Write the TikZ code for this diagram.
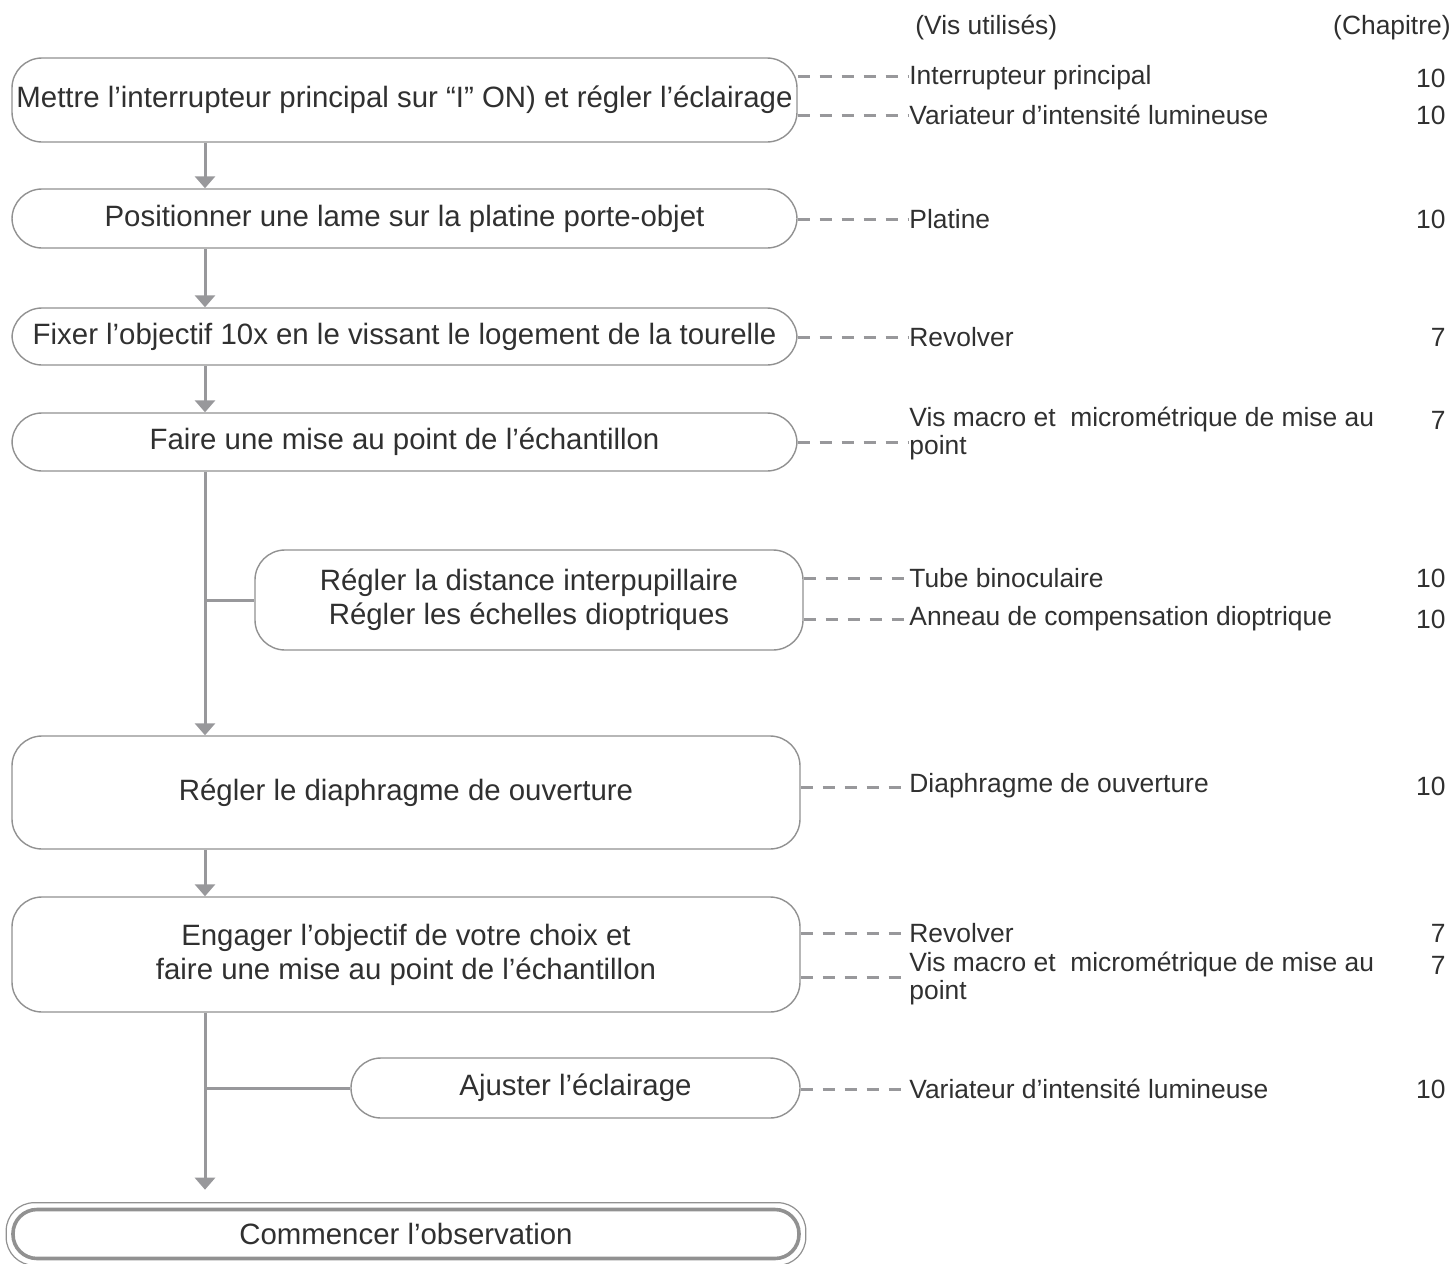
\documentclass[tikz,border=0pt]{standalone}
\usepackage{fontspec}
\setmainfont{Liberation Sans}
\usetikzlibrary{arrows.meta, positioning, calc}
\definecolor{cLine}{RGB}{152,152,155}
\definecolor{cBorder}{RGB}{145,145,145}
\definecolor{cText}{RGB}{48,48,48}
\tikzset{
	stepbox/.style={rectangle, rounded corners=15pt, draw=cBorder, line width=0.7pt, fill=white, text=cText, align=center, inner sep=0pt, font=\fontsize{14.7}{17}\selectfont},
	endbox/.style={stepbox, rounded corners=12pt, line width=1.8pt},
	flowline/.style={cLine, line width=1.5pt},
	flowarrow/.style={flowline, -{Triangle[length=6pt, width=10pt]}},
	link/.style={cLine, line width=1.5pt, dash pattern=on 6pt off 5pt},
	part/.style={anchor=west, inner sep=0pt, text=cText, align=left, font=\fontsize{13.2}{14}\selectfont},
	chap/.style={anchor=east, inner sep=0pt, text=cText, font=\fontsize{13.2}{14}\selectfont},
}
\begin{document}
\begin{tikzpicture}[x=0.5pt, y=-0.5pt]
	\useasboundingbox (0,0) rectangle (1452,1264);
	\coordinate (trunk) at (205,0);
	% main steps
	\node[stepbox, minimum width=392.5pt, minimum height=42pt] (sw) at (404.5,100) {Mettre l’interrupteur principal sur “I” ON) et régler l’éclairage};
	\node[stepbox, minimum width=392.5pt, minimum height=29.5pt] (lame) at (404.5,218.5) {Positionner une lame sur la platine porte-objet};
	\node[stepbox, minimum width=392.5pt, minimum height=28.5pt] (obj) at (404.5,336.5) {Fixer l’objectif 10x en le vissant le logement de la tourelle};
	\node[stepbox, minimum width=392.5pt, minimum height=29pt] (focus) at (404.5,442) {Faire une mise au point de l’échantillon};
	\node[stepbox, minimum width=274pt, minimum height=50pt] (pupil) at (529,600) {Régler la distance interpupillaire\\Régler les échelles dioptriques};
	\node[stepbox, minimum width=394pt, minimum height=56.5pt] (diaph) at (406,792.5) {Régler le diaphragme de ouverture};
	\node[stepbox, minimum width=394pt, minimum height=57.5pt] (engage) at (406,954.5) {Engager l’objectif de votre choix et\\faire une mise au point de l’échantillon};
	\node[stepbox, minimum width=224.5pt, minimum height=30pt] (eclair) at (575.5,1088) {Ajuster l’éclairage};
	\node[endbox, minimum width=393pt, minimum height=24.5pt] (obs) at (406,1234) {Commencer l’observation};
	\draw[cBorder, line width=0.6pt, rounded corners=14pt] ([shift={(-5,5)}]obs.south west) rectangle ([shift={(5,-5)}]obs.north east);
	% trunk
	\draw[flowarrow] (sw.south -| trunk) -- (lame.north -| trunk);
	\draw[flowarrow] (lame.south -| trunk) -- (obj.north -| trunk);
	\draw[flowarrow] (obj.south -| trunk) -- (focus.north -| trunk);
	\draw[flowarrow] (focus.south -| trunk) -- (diaph.north -| trunk);
	\draw[flowline] (pupil.west) -- (pupil.west -| trunk);
	\draw[flowarrow] (diaph.south -| trunk) -- (engage.north -| trunk);
	\draw[flowarrow, shorten >=9pt] (engage.south -| trunk) -- (obs.north -| trunk);
	\draw[flowline] (eclair.west) -- (eclair.west -| trunk);
	% parts and chapters
	\node[part] (hPart) at (915,28) {(Vis utilisés)};
	\node[chap] (hChap) at (1451,28) {(Chapitre)};
	\foreach \bx/\nm/\dy/\ty/\cy/\txt/\ch in {
		sw/p1/76/78/78/{Interrupteur principal}/10,
		sw/p2/115/115/115/{Variateur d’intensité lumineuse}/10,
		lame/p3/219/219/219/{Platine}/10,
		obj/p4/337/337/337/{Revolver}/7,
		focus/p5/442/434/420/{Vis macro et \ micrométrique de mise au\\point}/7,
		pupil/p6/578/578/578/{Tube binoculaire}/10,
		pupil/p7/619/619/619/{Anneau de compensation dioptrique}/10,
		diaph/p8/787/786/786/{Diaphragme de ouverture}/10,
		engage/p9/933/933/933/{Revolver}/7,
		engage/p10/977/978.5/965/{Vis macro et \ micrométrique de mise au\\point}/7,
		eclair/p11/1089/1089/1089/{Variateur d’intensité lumineuse}/10}
	{
		\node[part] (\nm) at (909,\ty) {\txt};
		\node[chap] (c\nm) at (1446,\cy) {\ch};
		\draw[link] (\bx.east |- 0,\dy) -- (\nm.west |- 0,\dy);
	}
\end{tikzpicture}
\end{document}
